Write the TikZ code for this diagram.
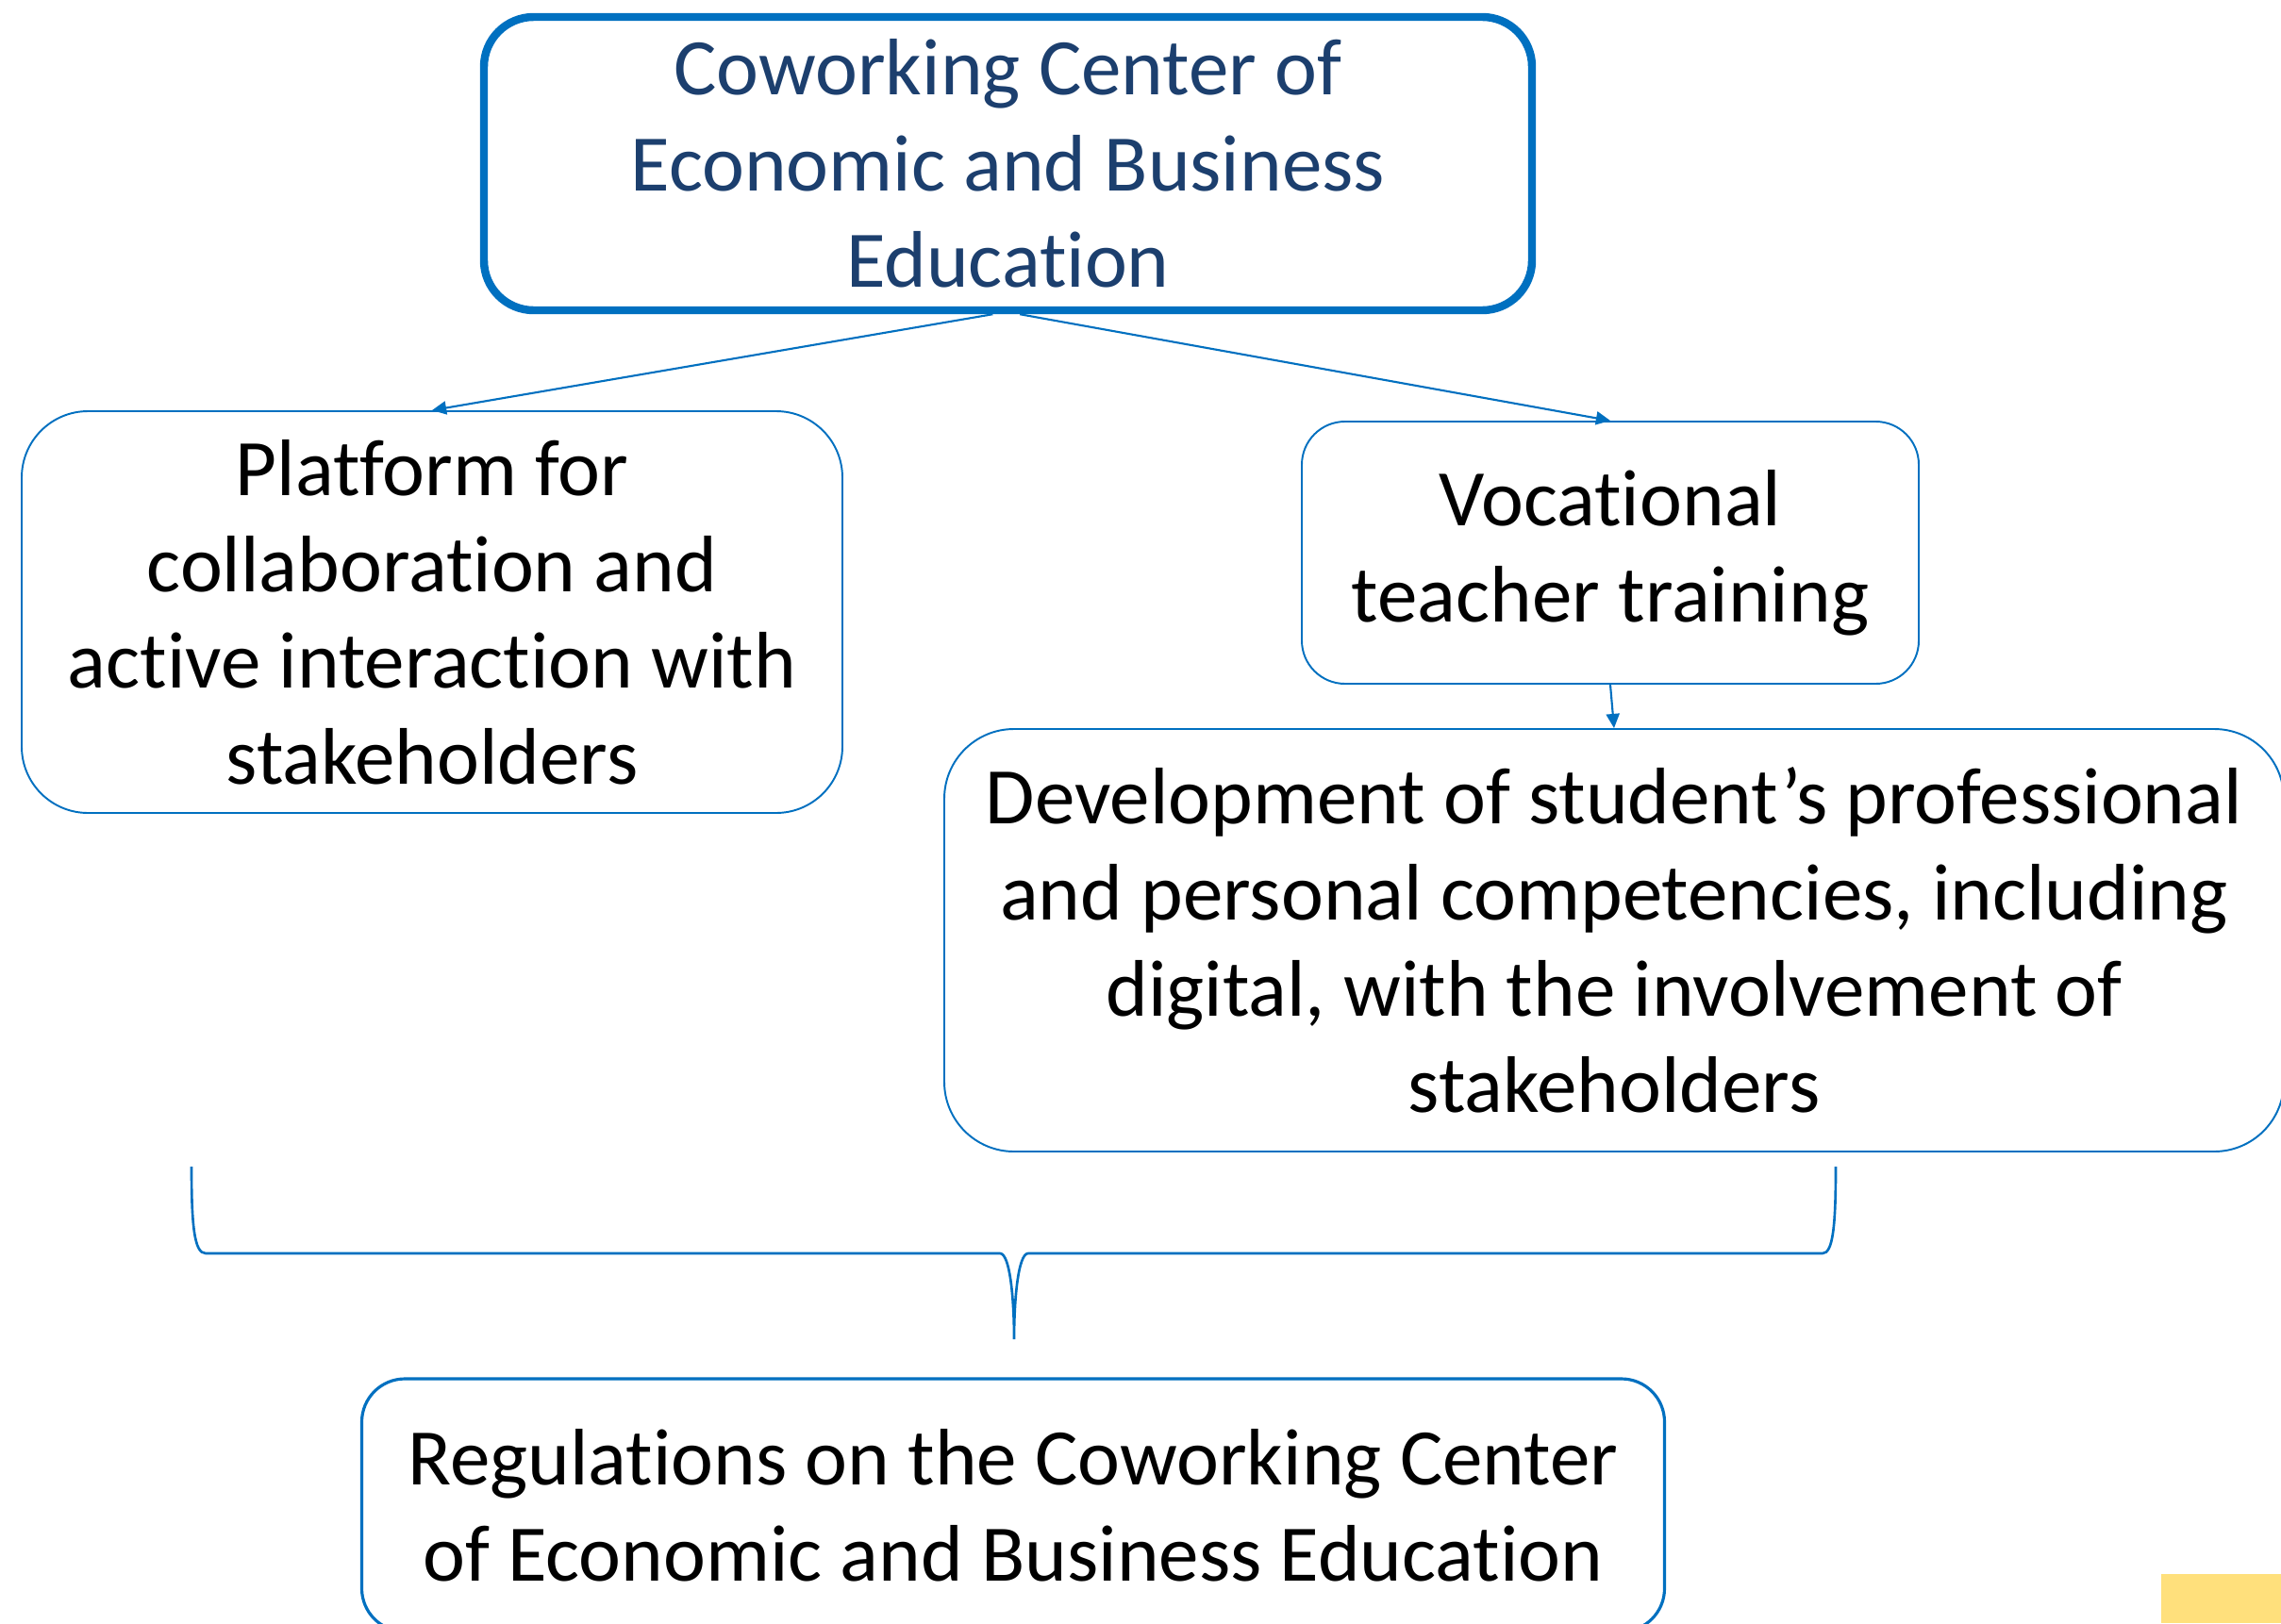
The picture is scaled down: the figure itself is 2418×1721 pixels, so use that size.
\documentclass[tikz,border=0pt]{standalone}
\usepackage{fontspec}
\setmainfont{Carlito}[RawFeature={-liga;-clig;-dlig;-calt;-hlig}]
\usetikzlibrary{arrows.meta}
\definecolor{lineblue}{HTML}{0070C0}
\definecolor{titleblue}{HTML}{1C3F6E}
\definecolor{tabyellow}{HTML}{FFE07C}
\tikzset{
  box/.style={draw=lineblue, line width=0.55pt, rectangle, align=center, inner sep=0pt,
    font=\fontsize{24.2pt}{29pt}\selectfont, text=black},
  arr/.style={draw=lineblue, line width=0.6pt, -{Triangle[length=4.3pt,width=4pt]}},
  bracestyle/.style={draw=lineblue, line width=0.75pt}
}
\begin{document}
\begin{tikzpicture}[x=0.01cm, y=-0.01cm]
\useasboundingbox (0,0) rectangle (2418,1721);
\clip (0,0) rectangle (2418,1721);
\fill[white] (0,0) rectangle (2418,1721);

\node[box, line width=2.4pt, text=titleblue, rounded corners=15pt,
  minimum width=1111*0.01cm, minimum height=311*0.01cm] (top) at (1068.5,173.5)
  {Coworking Center of\\Economic and Business\\Education};

\node[box, rounded corners=20pt, minimum width=870*0.01cm, minimum height=426*0.01cm]
  (plat) at (458,649)
  {Platform for\\collaboration and\\active interaction with\\stakeholders};

\node[box, rounded corners=13pt, minimum width=654*0.01cm, minimum height=278*0.01cm]
  (voc) at (1707,586)
  {Vocational\\teacher training};

\node[box, rounded corners=21pt, minimum width=1420*0.01cm, minimum height=448*0.01cm]
  (dev) at (1711,997)
  {Development of student’s professional\\and personal competencies, including\\digital, with the involvement of\\stakeholders};

\node[box, line width=0.9pt, rounded corners=13pt, minimum width=1381*0.01cm, minimum height=268*0.01cm]
  (reg) at (1074,1596)
  {Regulations on the Coworking Center\\of Economic and Business Education};

\draw[arr] ([xshift=-4.6pt]top.south) -- (plat.north);
\draw[arr] ([xshift=3.6pt]top.south) -- (voc.north);
\draw[arr] (voc.south) -- (dev.north);

\coordinate (bl) at (203,1237);
\coordinate (br) at (1946,1237);
\coordinate (btip) at (1075,1420);
\draw[bracestyle] (bl) .. controls (203,1300) and (206,1329) .. (218,1329)
  -- (1060,1329) .. controls (1071,1329) and (1075,1380) .. (btip)
  .. controls (1075,1380) and (1079,1329) .. (1090,1329)
  -- (1932,1329) .. controls (1943,1329) and (1946,1300) .. (br);

\fill[tabyellow] (2291,1669) rectangle (2418,1721);
\end{tikzpicture}
\end{document}
